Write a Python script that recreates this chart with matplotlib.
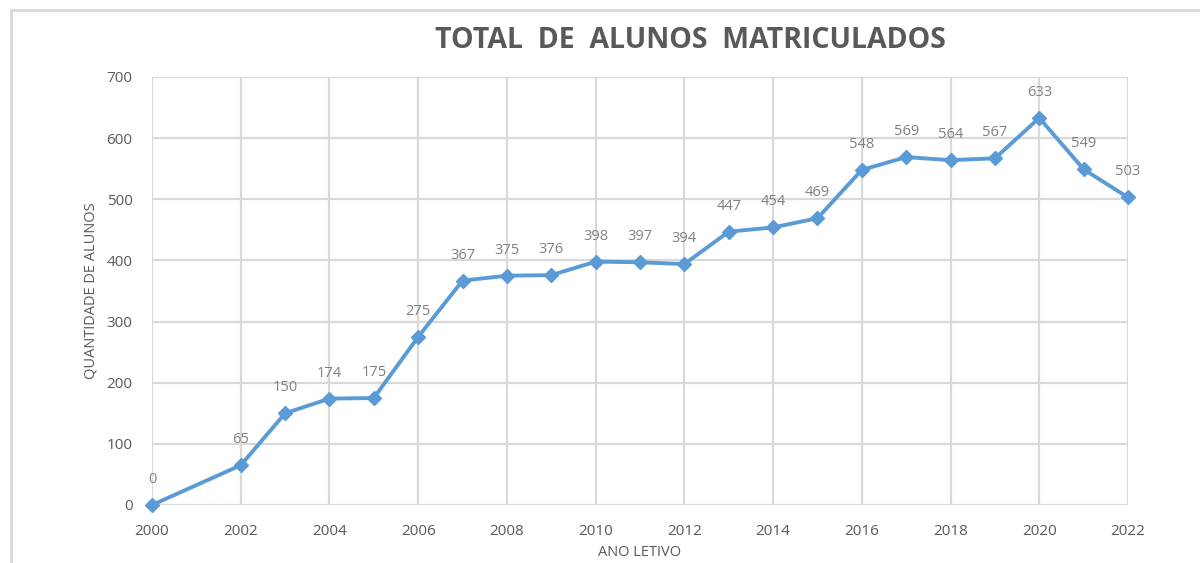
import matplotlib
matplotlib.use("Agg")
import matplotlib.pyplot as plt
from matplotlib.patches import Rectangle

years = [2000, 2002, 2003, 2004, 2005, 2006, 2007, 2008, 2009, 2010, 2011,
         2012, 2013, 2014, 2015, 2016, 2017, 2018, 2019, 2020, 2021, 2022]
alunos = [0, 65, 150, 174, 175, 275, 367, 375, 376, 398, 397,
          394, 447, 454, 469, 548, 569, 564, 567, 633, 549, 503]
xticks = list(range(2000, 2023, 2))
yticks = list(range(0, 701, 100))

title = "TOTAL  DE  ALUNOS  MATRICULADOS"
xlabel = "ANO LETIVO"
ylabel = "QUANTIDADE DE ALUNOS"

plt.rcParams['font.family'] = ['Open Sans', 'DejaVu Sans']

fig = plt.figure(figsize=(12, 5.63), dpi=100)
fig.patches.append(Rectangle((11/1200, -0.1), 1.2, 1 - 10/563 + 0.1,
                             transform=fig.transFigure, fill=False,
                             edgecolor='#D9D9D9', linewidth=2, zorder=0))

ax = fig.add_axes([152/1200, 1 - 505/563, (1128-152)/1200, (505-77)/563])
grid_c = '#D9D9D9'
ax.set_xlim(2000, 2022)
ax.set_ylim(0, 700)
ax.set_xticks(xticks)
ax.set_yticks(yticks)
ax.grid(True, color=grid_c, linewidth=1.6)
ax.set_axisbelow(True)
for s in ax.spines.values():
    s.set_visible(False)
ax.tick_params(length=0, colors='#595959', labelsize=11)
ax.tick_params(axis='x', pad=14)
ax.tick_params(axis='y', pad=14)

ax.plot(years, alunos, color='#5B9BD5', linewidth=2.8, marker='D',
        markersize=7.5, clip_on=False, zorder=3)
for x, y in zip(years, alunos):
    ax.annotate(str(y), (x, y), xytext=(0, 13), textcoords='offset points',
                ha='center', va='bottom', color='#808080', fontsize=10.5)

ax.set_xlabel(xlabel, color='#595959', fontsize=10.5, labelpad=4)
ax.set_ylabel(ylabel, color='#595959', fontsize=10.5, labelpad=6)
fig.text(690/1200, 1 - 40/563, title, ha='center', va='center',
         fontsize=20.5, fontweight='bold', color='#595959')

fig.savefig('out.png', dpi=100)
